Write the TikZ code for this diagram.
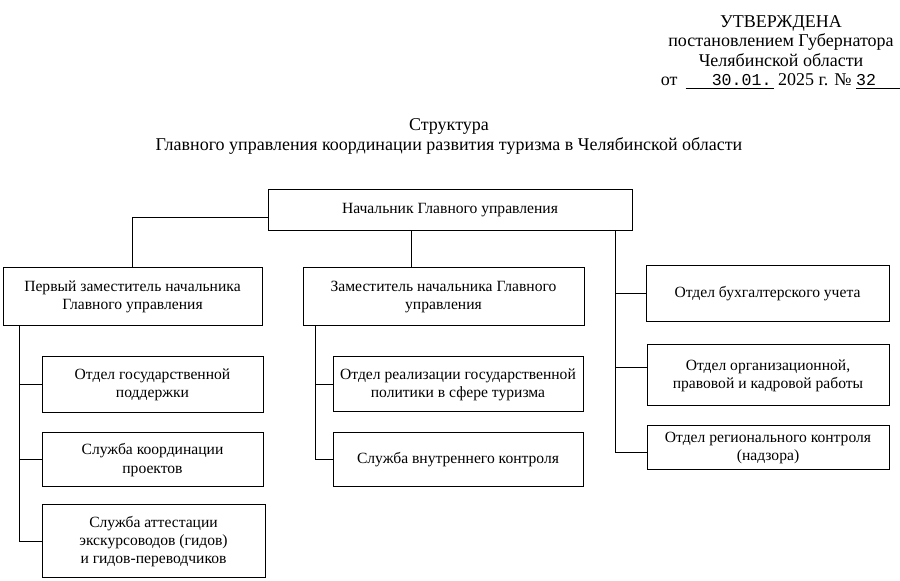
\documentclass[tikz,border=0pt]{standalone}
\usepackage{fontspec}
\setmainfont{Liberation Serif}
\newfontfamily\monofont{Liberation Mono}

\tikzset{
  unit/.style={draw, line width=0.5pt, align=center, inner sep=0pt,
    font=\fontsize{7.8}{9.1}\selectfont},
  link/.style={line width=0.5pt},
}

\begin{document}
\begin{tikzpicture}[x=0.5pt, y=-0.5pt]
  \useasboundingbox (0,0) rectangle (900,581);

  % Header
  \node[align=center, anchor=north, inner sep=0pt, font=\fontsize{9}{9.75}\selectfont] (stamp) at (781,15)
    {УТВЕРЖДЕНА\\ постановлением Губернатора\\ Челябинской области\\
     от\hspace{4pt}\underline{\hbox to 44pt{\hss\monofont\fontsize{8.3}{9}\selectfont 30.01.\hskip1pt}}
     2025 г. № \underline{\hbox to 22.5pt{\monofont\fontsize{8.3}{9}\selectfont 32\hss}}};
  \node[align=center, anchor=north, inner sep=0pt, font=\fontsize{9}{10}\selectfont] (title) at (449,118)
    {Структура\\ Главного управления координации развития туризма в Челябинской области};

  % Draw units
  \node[unit, minimum width=182pt, minimum height=20.5pt] (head) at (450,210.5) {Начальник Главного управления};
  \node[unit, minimum width=129.5pt, minimum height=29pt] (first) at (132.5,297) {Первый заместитель начальника\\ Главного управления};
  \node[unit, minimum width=140.5pt, minimum height=29pt] (deputy) at (443.5,297) {Заместитель начальника Главного\\ управления};
  \node[unit, minimum width=121.5pt, minimum height=28pt] (acct) at (767.5,294) {Отдел бухгалтерского учета};
  \node[unit, minimum width=121pt, minimum height=30.5pt] (org) at (768,375.5) {Отдел организационной,\\ правовой и кадровой работы};
  \node[unit, minimum width=121pt, minimum height=22pt] (reg) at (768,448) {Отдел регионального контроля\\ (надзора)};

  \node[unit, minimum width=110.5pt, minimum height=28pt] (support) at (152.5,385) {Отдел государственной\\ поддержки};
  \node[unit, minimum width=110.5pt, minimum height=27pt] (coord) at (152.5,460) {Служба координации\\ проектов};
  \node[unit, minimum width=111.5pt, minimum height=36.5pt] (attest) at (153.5,541.5) {Служба аттестации\\ экскурсоводов (гидов)\\ и гидов-переводчиков};

  \node[unit, minimum width=125pt, minimum height=27.5pt] (policy) at (458,384.5) {Отдел реализации государственной\\ политики в сфере туризма};
  \node[unit, minimum width=125pt, minimum height=27pt] (audit) at (458,460) {Служба внутреннего контроля};

  % Spines
  \coordinate (mid) at (411,0);
  \coordinate (lsp) at (19,0);
  \coordinate (msp) at (315,0);
  \coordinate (rsp) at (615,0);

  % Draw links
  \draw[link] ([yshift=-3.75pt]head.west) -| (first.north);
  \draw[link] (head.south -| mid) -- (deputy.north -| mid);
  \draw[link] (head.south -| rsp) |- ([yshift=-2.5pt]reg.west);
  \draw[link] (acct.west -| rsp) -- (acct.west);
  \draw[link] ([yshift=3.75pt]org.west -| rsp) -- ([yshift=3.75pt]org.west);

  \draw[link] (first.south -| lsp) |- (attest.west);
  \draw[link] (support.west -| lsp) -- (support.west);
  \draw[link] (coord.west -| lsp) -- (coord.west);

  \draw[link] (deputy.south -| msp) |- (audit.west);
  \draw[link] (policy.west -| msp) -- (policy.west);
\end{tikzpicture}
\end{document}
